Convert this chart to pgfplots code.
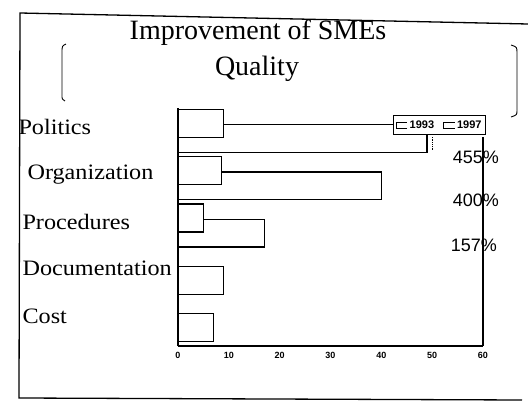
\documentclass[border=0pt]{standalone}
\usepackage{pgfplots}
\pgfplotsset{compat=1.18}
\usepackage{fontspec}
\setmainfont{Liberation Serif}[FakeStretch=1.1]
\newfontfamily\titlef{Liberation Serif}
\newfontfamily\sansf{Liberation Sans}
\begin{document}
\begin{tikzpicture}
\begin{axis}[
  scale only axis, width=305pt, height=238pt,
  xmin=0, xmax=60, ymin=0.45, ymax=5.49,
  clip=false,
  axis x line*=bottom, axis y line*=left,
  axis line style={-, line width=1.2pt, black},
  major tick length=0pt,
  /pgf/number format/assume math mode=true,
  xtick={0,10,...,60},
  xticklabel style={font=\sansf\bfseries\fontsize{9}{9}\selectfont, yshift=-3pt},
  ytick={1,2,3,4,5},
  yticklabels={Cost,Documentation,Procedures,\hspace*{5pt}Organization,\hspace*{-4pt}Politics},
  yticklabel style={anchor=west, xshift=-159pt, yshift=4pt, font=\fontsize{22}{22}\selectfont},
  reverse legend,
  legend columns=2,
  legend style={at={(axis cs:60.6,5.34)}, anchor=north east,
    font=\sansf\bfseries\fontsize{11}{11}\selectfont,
    draw=black, line width=1.1pt, inner xsep=2pt, inner ysep=3pt,
    /tikz/every even column/.append style={column sep=7pt}},
  legend image code/.code={\draw[line width=0.9pt] (11pt,-2.8pt) -- (0pt,-2.8pt) -- (0pt,2.8pt) -- (11pt,2.8pt);},
]
\addplot[xbar, bar width=0.59, bar shift=-0.16, fill=white, draw=black, line width=1.2pt]
  coordinates {(49,5) (40,4) (17,3) (9,2) (7,1)};
\addlegendentry{1997}
\addplot[xbar, bar width=0.59, bar shift=0.16, fill=white, draw=black, line width=1.2pt]
  coordinates {(9,5) (8.5,4) (5,3)};
\addlegendentry{1993}
\draw[line width=1.2pt] (axis cs:60,0.45) -- (axis cs:60,4.88);
\draw[densely dotted, line width=0.8pt] (axis cs:50,4.88) -- (axis cs:50,4.58);
\node[font=\sansf\fontsize{18}{18}\selectfont] at (axis cs:58.6,4.45) {455\%};
\node[font=\sansf\fontsize{18}{18}\selectfont] at (axis cs:58.6,3.54) {400\%};
\node[font=\sansf\fontsize{18}{18}\selectfont] at (axis cs:58.2,2.59) {157\%};
\coordinate (O) at (rel axis cs:0,0);
\end{axis}
\pgfresetboundingbox
\begin{scope}[shift={(O)}, x=1pt, y=1pt, shift={(-178,-59)}]
\path[use as bounding box] (0,0) rectangle (528,405);
% page frame
\draw[line width=1.3pt] (528,381) -- (20,392) -- (19,7) -- (522,5);
% title
\node[anchor=base,font=\titlef\fontsize{28}{28}\selectfont] at (258,365) {Improvement of SMEs};
\node[anchor=base,font=\titlef\fontsize{28}{28}\selectfont] at (257,329) {Quality};
% decorative brackets
\draw[line width=0.9pt] (66,361) .. controls (62,359) .. (62,352) -- (62,310) .. controls (62,306) .. (65,304);
\draw[line width=0.9pt] (511,360) .. controls (517,358) .. (517,352) -- (517,295) .. controls (517,290) .. (511,288);
\end{scope}
\end{tikzpicture}
\end{document}
